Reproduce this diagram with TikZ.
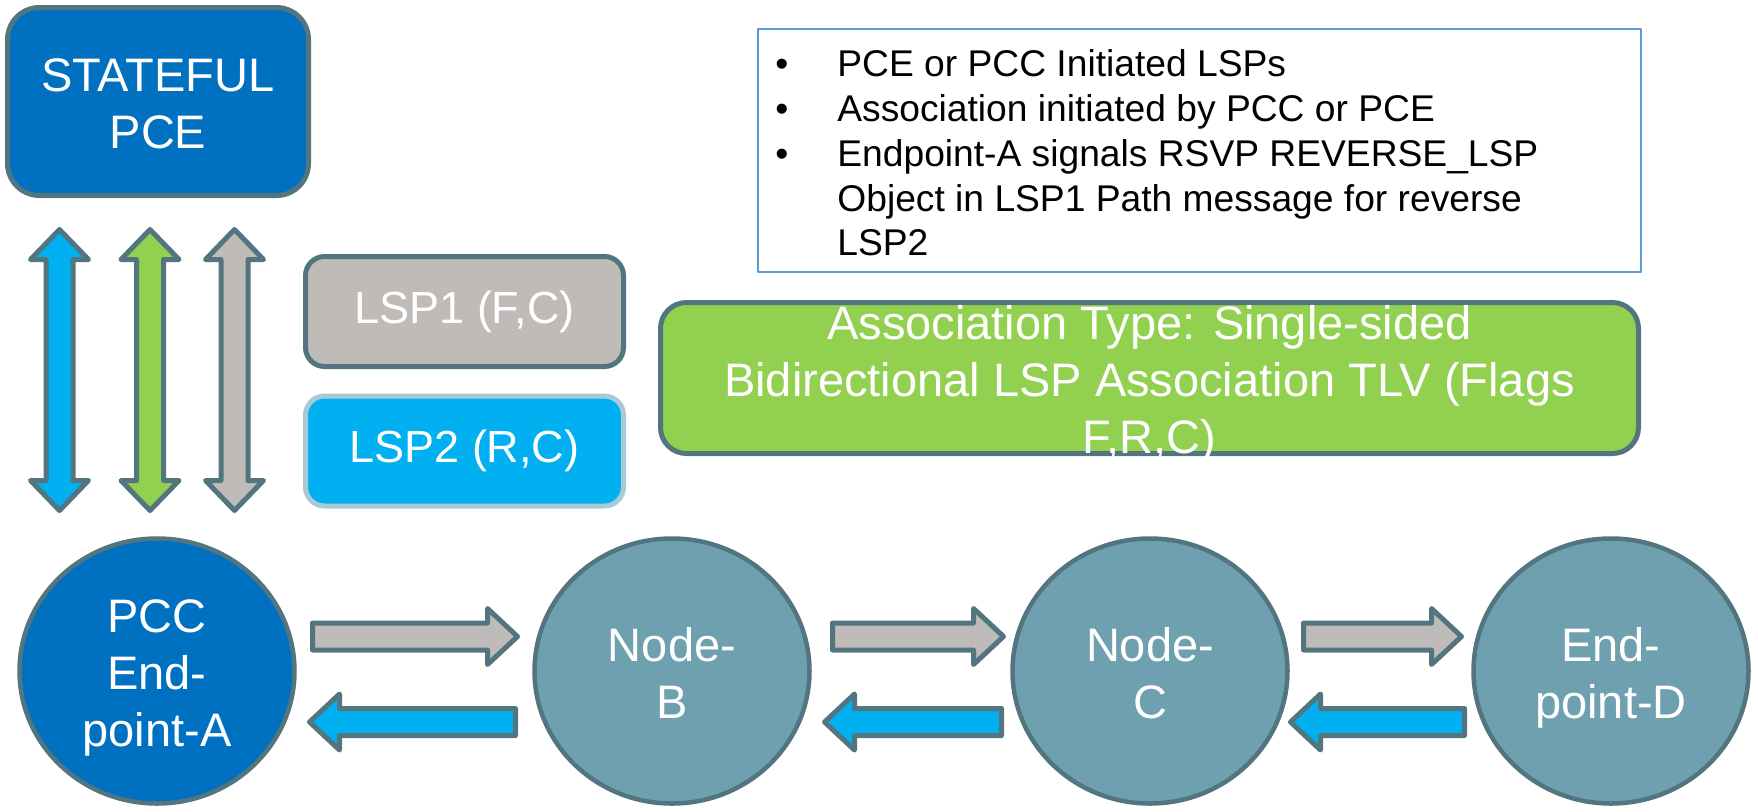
\documentclass[tikz,border=0pt]{standalone}
\usepackage{fontspec}
\setmainfont{Liberation Sans}
\usetikzlibrary{shapes.geometric}

\definecolor{pceblue}{HTML}{0070C0}
\definecolor{edgeslate}{HTML}{52757F}
\definecolor{nodeteal}{HTML}{6FA0AF}
\definecolor{lspgray}{HTML}{BFBBB8}
\definecolor{lspblue}{HTML}{00B0F0}
\definecolor{lsptwoedge}{HTML}{A9CAD5}
\definecolor{assocgreen}{HTML}{92D050}
\definecolor{noteedge}{HTML}{5B9BD5}

\newcommand{\bigtext}{\fontsize{23.5pt}{28.5pt}\selectfont}
\newcommand{\notetext}{\fontsize{18.6pt}{22.5pt}\selectfont}
\newcommand{\ls}{\rule[-5pt]{0pt}{28.5pt}}

% block arrows: style, tail x, tip x, y
\newcommand{\rightblock}[4]{\draw[#1] (#2,#4-13.5) -- (#3-30,#4-13.5) -- (#3-30,#4-28) -- (#3,#4)
    -- (#3-30,#4+28) -- (#3-30,#4+13.5) -- (#2,#4+13.5) -- cycle;}
% style, tip x, tail x, y
\newcommand{\leftblock}[4]{\draw[#1] (#3,#4-13.5) -- (#2+30,#4-13.5) -- (#2+30,#4-28) -- (#2,#4)
    -- (#2+30,#4+28) -- (#2+30,#4+13.5) -- (#3,#4+13.5) -- cycle;}
% style, centre x
\newcommand{\updownblock}[2]{\draw[#1] (#2-13.5,259.5) -- (#2-29,259.5) -- (#2,229.5) -- (#2+29,259.5)
    -- (#2+13.5,259.5) -- (#2+13.5,480.5) -- (#2+29,480.5) -- (#2,510.5) -- (#2-29,480.5)
    -- (#2-13.5,480.5) -- cycle;}

\begin{document}
\begin{tikzpicture}[
    x=0.5pt, y=-0.5pt, % one unit = one pixel of the slide
    line join=round,
    outline/.style={draw=edgeslate, line width=2.5pt},
    pcebox/.style={outline, fill=pceblue, rounded corners=16pt, minimum width=150.5pt,
        minimum height=94pt, inner sep=0pt, text=white, font=\bigtext, align=center},
    lspbox/.style={outline, rounded corners=9.5pt, minimum width=159pt, minimum height=55pt,
        inner sep=0pt, text=white, font=\fontsize{22.5pt}{27pt}\selectfont},
    assocbox/.style={outline, fill=assocgreen, rounded corners=13pt, minimum width=489pt,
        minimum height=75.5pt, inner sep=0pt},
    whitetext/.style={text=white, font=\bigtext, align=center, inner sep=0pt},
    notebox/.style={draw=noteedge, line width=0.75pt, minimum width=441.5pt, minimum height=121.5pt},
    noteline/.style={font=\notetext, inner sep=0pt, anchor=base west},
    endnode/.style={ellipse, draw=edgeslate, line width=2.25pt, fill=nodeteal, minimum width=137.5pt,
        minimum height=132.5pt, inner sep=0pt, text=white, font=\bigtext, align=center},
    grayarrow/.style={outline, fill=lspgray},
    bluearrow/.style={outline, fill=lspblue},
    greenarrow/.style={outline, fill=assocgreen},
]
\useasboundingbox (0,0) rectangle (1758,811);

\node[pcebox] (pce) at (158,101.5) {\ls STATEFUL\\\ls PCE};

% signalling between PCE and PCC
\updownblock{bluearrow}{59.5}
\updownblock{greenarrow}{150}
\updownblock{grayarrow}{234.5}

\node[lspbox, fill=lspgray] (lsp1) at (464.5,311.5) {LSP1 (F,C)};
\node[lspbox, fill=lspblue, draw=lsptwoedge] (lsp2) at (464.5,451) {LSP2 (R,C)};

\node[notebox] (notes) at (1199.5,150.5) {};
\node[noteline, anchor=base] (d1) at (782,76) {•};
\node[noteline, anchor=base] (d2) at (782,121) {•};
\node[noteline, anchor=base] (d3) at (782,166) {•};
\node[noteline] (n1) at (837,76) {PCE or PCC Initiated LSPs};
\node[noteline] (n2) at (837,121) {Association initiated by PCC or PCE};
\node[noteline] (n3) at (837,166) {Endpoint-A signals RSVP REVERSE\_LSP};
\node[noteline] (n4) at (837,211) {Object in LSP1 Path message for reverse};
\node[noteline] (n5) at (837,255) {LSP2};

\node[assocbox] (assoc) at (1149.5,378) {};
\node[whitetext] (assoctext) at (assoc.center) {\ls Association Type: Single-sided\\
    \ls Bidirectional LSP Association TLV (Flags\\\ls F,R,C)};

% path nodes
\node[endnode, fill=pceblue] (A) at (157,671) {\ls PCC\\\ls End-\\\ls point-A};
\node[endnode] (B) at (672,671) {\ls Node-\\\ls B};
\node[endnode] (C) at (1150,671) {\ls Node-\\\ls C};
\node[endnode] (D) at (1611,671) {\ls End-\\\ls point-D};

% LSP1 forward, LSP2 reverse
\rightblock{grayarrow}{312.5}{517.5}{636.5}
\rightblock{grayarrow}{832.5}{1003.5}{636.5}
\rightblock{grayarrow}{1303.5}{1461.5}{636.5}
\leftblock{bluearrow}{309.5}{515.5}{722}
\leftblock{bluearrow}{824.5}{1001.5}{722}
\leftblock{bluearrow}{1290.5}{1464.5}{722}
\end{tikzpicture}
\end{document}
